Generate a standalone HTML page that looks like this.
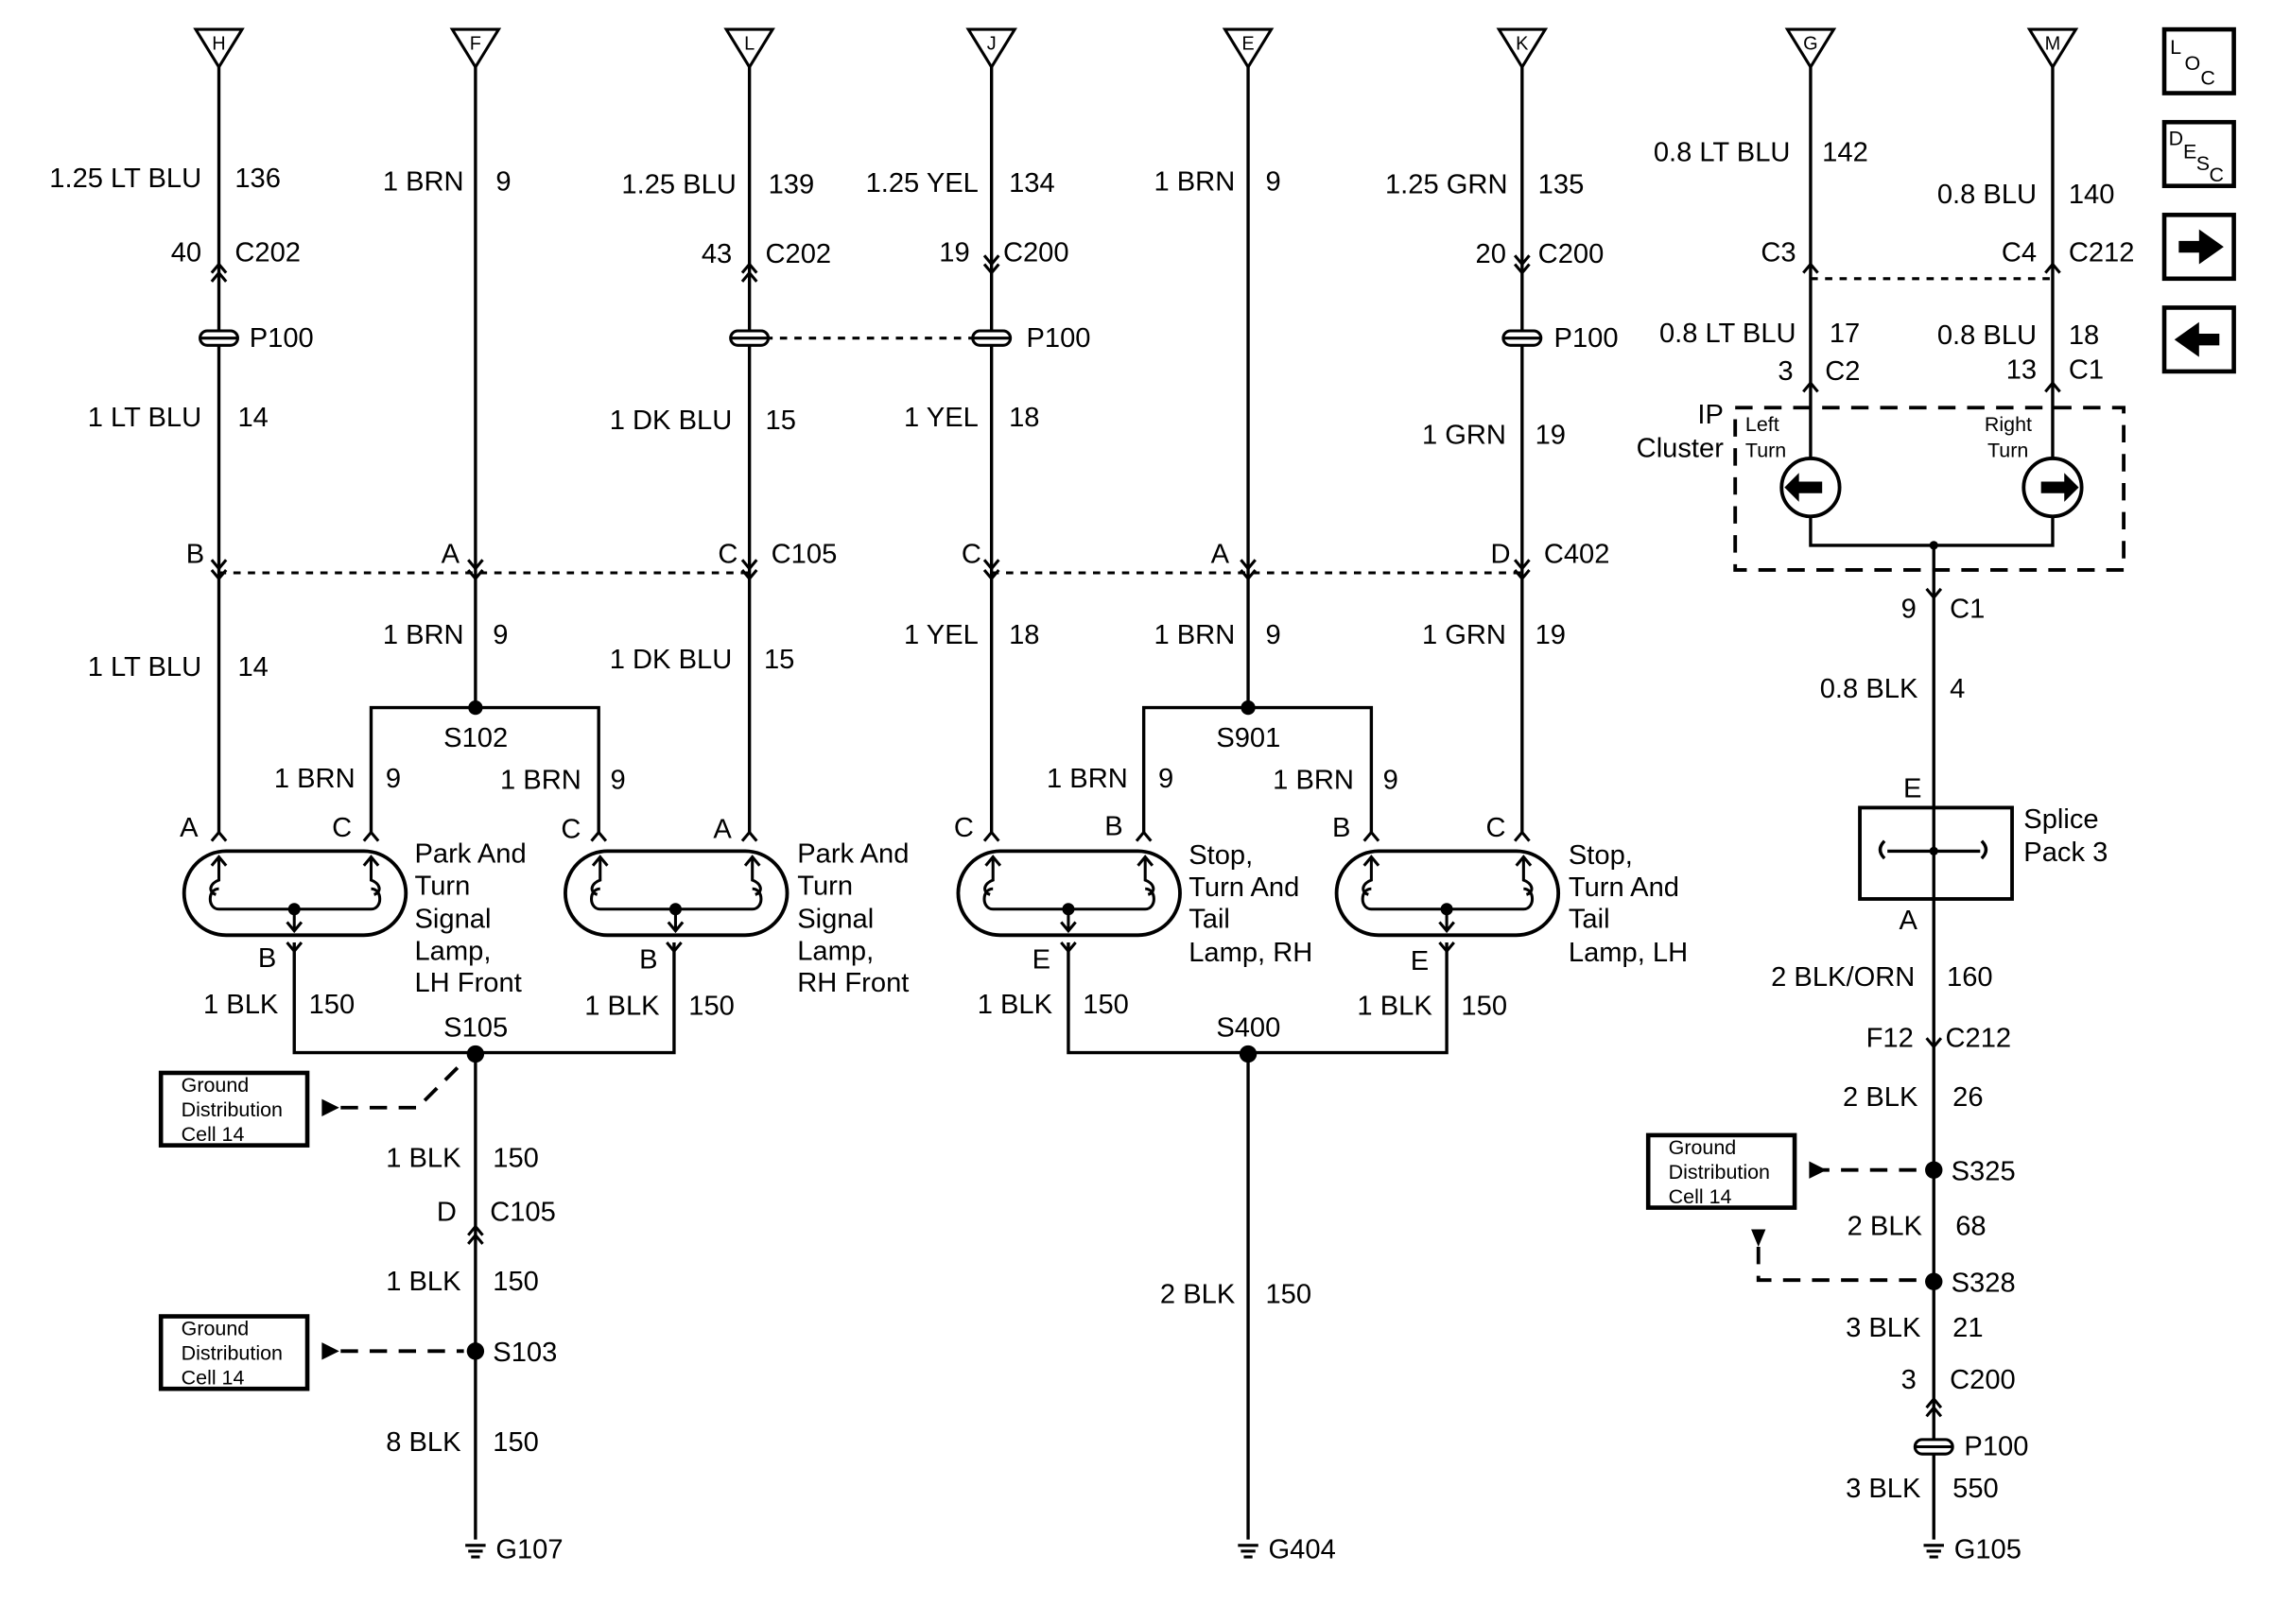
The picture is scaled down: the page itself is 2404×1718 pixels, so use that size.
<!DOCTYPE html>
<html><head><meta charset="utf-8"><style>
html,body{margin:0;padding:0;background:#fff}
svg{display:block}
text{font-family:"Liberation Sans",sans-serif;font-size:19px;fill:#000}
.e{text-anchor:end}
.s{font-size:14px}
.t{font-size:13px;text-anchor:middle}
</style></head><body>
<svg width="2404" height="1718" viewBox="0 0 1568 1120" xmlns="http://www.w3.org/2000/svg">
<defs>
<g id="lamp" fill="none" stroke="#000" stroke-width="2.5">
<rect x="0" y="0" width="153" height="58" rx="29"/>
<path d="M24 4 v16 c-6 2 -8 8 -2 10 M24 26 c-8 0 -8 14 0 14 H129 c8 0 8 -14 0 -14 M129 4 v16 c6 2 8 8 2 10" stroke-width="2"/>
<path d="M19 10 l5 -6 l5 6 M124 10 l5 -6 l5 6 M76 40 v15 M71 49 l5 6 l5 -6" stroke-width="2"/>
<circle cx="76" cy="40" r="3" fill="#000"/>
</g>
<g id="fc" fill="none" stroke="#000" stroke-width="2"><path d="M-5 6 L0 0 L5 6"/></g>
<g id="mc" fill="none" stroke="#000" stroke-width="2"><path d="M-5 -6 L0 0 L5 -6"/></g>
<g id="p100" stroke="#000" stroke-width="2" fill="#fff"><rect x="-13" y="-5" width="26" height="10" rx="5"/><line x1="-13" y1="0" x2="13" y2="0"/></g>
<g id="tri" fill="none" stroke="#000" stroke-width="2"><path d="M-16 20 H16 L0 46 Z"/></g>
<g id="gnd" stroke="#000" stroke-width="2"><line x1="-7" y1="0" x2="7" y2="0"/><line x1="-5" y1="4" x2="5" y2="4"/><line x1="-3" y1="8" x2="3" y2="8"/></g>
</defs>
<g stroke="#000" stroke-width="2.2" fill="none">
<!-- vertical wires -->
<path d="M151 46 V575 M328 46 V488 M517 46 V575 M684 46 V575 M861 46 V488 M1050 46 V575 M1249 46 V316 M1416 46 V316"/>
<path d="M256 575 V488 H413 V575 M789 575 V488 H946 V575"/>
<path d="M203 650 V726 H465 V650 M737 650 V726 H998 V650"/>
<path d="M328 726 V1062 M861 726 V1062 M1334 376 V1062"/>
<path d="M1249 356 V376 H1416 V356"/>
<rect x="1283" y="557" width="105" height="63" stroke-width="2.5"/>
<path d="M1300 580 c-4 4 -4 8 0 12 M1367 580 c4 4 4 8 0 12 M1302 587 H1366"/>
<circle cx="1249" cy="336" r="20" stroke-width="2.5"/>
<circle cx="1416" cy="336" r="20" stroke-width="2.5"/>
<!-- ground boxes -->
<rect x="111" y="740" width="101" height="50" stroke-width="3"/>
<rect x="111" y="908" width="101" height="50" stroke-width="3"/>
<rect x="1137" y="783" width="101" height="50" stroke-width="3"/>
</g>
<g stroke="#000" stroke-width="2" fill="none" stroke-dasharray="5 5">
<path d="M151 395 H517 M684 395 H1050 M528 233 H672 M1249 192 H1416"/>
</g>
<g stroke="#000" stroke-width="2.5" fill="none" stroke-dasharray="12 8">
<rect x="1197" y="281" width="268" height="112"/>
<path d="M235 764 H288 L320 732 M235 932 H320 M1250 807 H1325 M1213 860 V883 H1325"/>
</g>
<g fill="#000">
<path d="M222 758 l12 6 l-12 6 z M222 926 l12 6 l-12 6 z M1248 801 l12 6 l-12 6 z M1208 848 l5 12 l5 -12 z"/>
<path d="M1231 336 l10 -10 v6 h16 v8 h-16 v6 z M1434 336 l-10 -10 v6 h-16 v8 h16 v6 z"/>
<circle cx="328" cy="488" r="5"/><circle cx="861" cy="488" r="5"/>
<circle cx="328" cy="727" r="6"/><circle cx="861" cy="727" r="6"/>
<circle cx="328" cy="932" r="6"/><circle cx="1334" cy="807" r="6"/><circle cx="1334" cy="884" r="6"/>
<circle cx="1334" cy="587" r="3"/><circle cx="1334" cy="376" r="3"/>
</g>
<use href="#lamp" x="127" y="587"/><use href="#lamp" x="390" y="587"/>
<use href="#lamp" x="661" y="587"/><use href="#lamp" x="922" y="587"/>
<!-- triangles -->
<use href="#tri" x="151" y="0"/><use href="#tri" x="328" y="0"/><use href="#tri" x="517" y="0"/><use href="#tri" x="684" y="0"/>
<use href="#tri" x="861" y="0"/><use href="#tri" x="1050" y="0"/><use href="#tri" x="1249" y="0"/><use href="#tri" x="1416" y="0"/>
<text class="t" x="151" y="34">H</text><text class="t" x="328" y="34">F</text><text class="t" x="517" y="34">L</text><text class="t" x="684" y="34">J</text>
<text class="t" x="861" y="34">E</text><text class="t" x="1050" y="34">K</text><text class="t" x="1249" y="34">G</text><text class="t" x="1416" y="34">M</text>
<!-- connectors -->
<use href="#fc" x="151" y="182"/><use href="#fc" x="151" y="188"/>
<use href="#fc" x="517" y="182"/><use href="#fc" x="517" y="188"/>
<use href="#mc" x="684" y="182"/><use href="#mc" x="684" y="188"/>
<use href="#mc" x="1050" y="182"/><use href="#mc" x="1050" y="188"/>
<use href="#fc" x="1249" y="182"/><use href="#fc" x="1416" y="182"/>
<use href="#fc" x="1249" y="264"/><use href="#fc" x="1416" y="264"/>
<use href="#p100" x="151" y="233"/><use href="#p100" x="517" y="233"/><use href="#p100" x="684" y="233"/><use href="#p100" x="1050" y="233"/><use href="#p100" x="1334" y="998"/>
<use href="#mc" x="151" y="392"/><use href="#mc" x="151" y="399"/><use href="#mc" x="328" y="392"/><use href="#mc" x="328" y="399"/>
<use href="#mc" x="517" y="392"/><use href="#mc" x="517" y="399"/><use href="#mc" x="684" y="392"/><use href="#mc" x="684" y="399"/>
<use href="#mc" x="861" y="392"/><use href="#mc" x="861" y="399"/><use href="#mc" x="1050" y="392"/><use href="#mc" x="1050" y="399"/>
<use href="#fc" x="151" y="574"/><use href="#fc" x="256" y="574"/><use href="#fc" x="413" y="574"/><use href="#fc" x="517" y="574"/>
<use href="#fc" x="684" y="574"/><use href="#fc" x="789" y="574"/><use href="#fc" x="946" y="574"/><use href="#fc" x="1050" y="574"/>
<use href="#mc" x="203" y="656"/><use href="#mc" x="465" y="656"/><use href="#mc" x="737" y="656"/><use href="#mc" x="998" y="656"/>
<use href="#mc" x="1334" y="412"/><use href="#fc" x="328" y="846"/><use href="#fc" x="328" y="852"/>
<use href="#fc" x="1334" y="965"/><use href="#fc" x="1334" y="971"/><use href="#mc" x="1334" y="722"/>
<use href="#gnd" x="328" y="1066"/><use href="#gnd" x="861" y="1066"/><use href="#gnd" x="1334" y="1066"/>
<!-- labels column H -->
<text class="e" x="139" y="129">1.25 LT BLU</text><text x="162" y="129">136</text>
<text class="e" x="139" y="180">40</text><text x="162" y="180">C202</text><text x="172" y="239">P100</text>
<text class="e" x="139" y="294">1 LT BLU</text><text x="164" y="294">14</text>
<text class="e" x="141" y="388">B</text><text class="e" x="139" y="466">1 LT BLU</text><text x="164" y="466">14</text>
<!-- F -->
<text class="e" x="320" y="131">1 BRN</text><text x="342" y="131">9</text>
<text class="e" x="317" y="388">A</text><text class="e" x="320" y="444">1 BRN</text><text x="340" y="444">9</text>
<text x="306" y="515">S102</text>
<text class="e" x="245" y="543">1 BRN</text><text x="266" y="543">9</text>
<text class="e" x="401" y="544">1 BRN</text><text x="421" y="544">9</text>
<!-- L -->
<text class="e" x="508" y="133">1.25 BLU</text><text x="530" y="133">139</text>
<text class="e" x="505" y="181">43</text><text x="528" y="181">C202</text>
<text class="e" x="505" y="296">1 DK BLU</text><text x="528" y="296">15</text>
<text class="e" x="509" y="388">C</text><text x="532" y="388">C105</text>
<text class="e" x="505" y="461">1 DK BLU</text><text x="527" y="461">15</text>
<!-- J -->
<text class="e" x="675" y="132">1.25 YEL</text><text x="696" y="132">134</text>
<text class="e" x="669" y="180">19</text><text x="692" y="180">C200</text><text x="708" y="239">P100</text>
<text class="e" x="675" y="294">1 YEL</text><text x="696" y="294">18</text>
<text class="e" x="677" y="388">C</text><text class="e" x="675" y="444">1 YEL</text><text x="696" y="444">18</text>
<!-- E -->
<text class="e" x="852" y="131">1 BRN</text><text x="873" y="131">9</text>
<text class="e" x="848" y="388">A</text><text class="e" x="852" y="444">1 BRN</text><text x="873" y="444">9</text>
<text x="839" y="515">S901</text>
<text class="e" x="778" y="543">1 BRN</text><text x="799" y="543">9</text>
<text class="e" x="934" y="544">1 BRN</text><text x="954" y="544">9</text>
<!-- K -->
<text class="e" x="1040" y="133">1.25 GRN</text><text x="1061" y="133">135</text>
<text class="e" x="1039" y="181">20</text><text x="1061" y="181">C200</text><text x="1072" y="239">P100</text>
<text class="e" x="1039" y="306">1 GRN</text><text x="1059" y="306">19</text>
<text class="e" x="1042" y="388">D</text><text x="1065" y="388">C402</text>
<text class="e" x="1039" y="444">1 GRN</text><text x="1059" y="444">19</text>
<!-- lamp letters -->
<text x="124" y="577">A</text><text x="229" y="577">C</text><text x="387" y="578">C</text><text x="492" y="578">A</text>
<text x="658" y="577">C</text><text x="762" y="576">B</text><text x="919" y="577">B</text><text x="1025" y="577">C</text>
<text x="178" y="667">B</text><text x="441" y="668">B</text><text x="712" y="668">E</text><text x="973" y="669">E</text>
<text x="286" y="595">Park And</text><text x="286" y="617">Turn</text><text x="286" y="640">Signal</text><text x="286" y="662">Lamp,</text><text x="286" y="684">LH Front</text>
<text x="550" y="595">Park And</text><text x="550" y="617">Turn</text><text x="550" y="640">Signal</text><text x="550" y="662">Lamp,</text><text x="550" y="684">RH Front</text>
<text x="820" y="596">Stop,</text><text x="820" y="618">Turn And</text><text x="820" y="640">Tail</text><text x="820" y="663">Lamp, RH</text>
<text x="1082" y="596">Stop,</text><text x="1082" y="618">Turn And</text><text x="1082" y="640">Tail</text><text x="1082" y="663">Lamp, LH</text>
<text class="e" x="192" y="699">1 BLK</text><text x="213" y="699">150</text>
<text class="e" x="455" y="700">1 BLK</text><text x="475" y="700">150</text>
<text class="e" x="726" y="699">1 BLK</text><text x="747" y="699">150</text>
<text class="e" x="988" y="700">1 BLK</text><text x="1008" y="700">150</text>
<text x="306" y="715">S105</text><text x="839" y="715">S400</text>
<text class="s" x="125" y="753">Ground</text><text class="s" x="125" y="770">Distribution</text><text class="s" x="125" y="787">Cell 14</text>
<text class="s" x="125" y="921">Ground</text><text class="s" x="125" y="938">Distribution</text><text class="s" x="125" y="955">Cell 14</text>
<text class="s" x="1151" y="796">Ground</text><text class="s" x="1151" y="813">Distribution</text><text class="s" x="1151" y="830">Cell 14</text>
<text class="e" x="318" y="805">1 BLK</text><text x="340" y="805">150</text>
<text class="e" x="315" y="842">D</text><text x="338" y="842">C105</text>
<text class="e" x="318" y="890">1 BLK</text><text x="340" y="890">150</text>
<text x="340" y="939">S103</text>
<text class="e" x="318" y="1001">8 BLK</text><text x="340" y="1001">150</text>
<text x="342" y="1075">G107</text>
<text class="e" x="852" y="899">2 BLK</text><text x="873" y="899">150</text>
<text x="875" y="1075">G404</text>
<!-- right -->
<text class="e" x="1235" y="111">0.8 LT BLU</text><text x="1257" y="111">142</text>
<text class="e" x="1405" y="140">0.8 BLU</text><text x="1427" y="140">140</text>
<text class="e" x="1239" y="180">C3</text><text class="e" x="1405" y="180">C4</text><text x="1427" y="180">C212</text>
<text class="e" x="1239" y="236">0.8 LT BLU</text><text x="1262" y="236">17</text>
<text class="e" x="1405" y="237">0.8 BLU</text><text x="1427" y="237">18</text>
<text class="e" x="1237" y="262">3</text><text x="1259" y="262">C2</text>
<text class="e" x="1405" y="261">13</text><text x="1427" y="261">C1</text>
<text class="e" x="1189" y="292">IP</text><text class="e" x="1189" y="315">Cluster</text>
<text class="s" x="1204" y="297">Left</text><text class="s" x="1204" y="315">Turn</text>
<text class="s" x="1369" y="297">Right</text><text class="s" x="1371" y="315">Turn</text>
<text class="e" x="1322" y="426">9</text><text x="1345" y="426">C1</text>
<text class="e" x="1323" y="481">0.8 BLK</text><text x="1345" y="481">4</text>
<text x="1313" y="550">E</text><text x="1396" y="571">Splice</text><text x="1396" y="594">Pack 3</text>
<text x="1310" y="641">A</text>
<text class="e" x="1321" y="680">2 BLK/ORN</text><text x="1343" y="680">160</text>
<text class="e" x="1320" y="722">F12</text><text x="1342" y="722">C212</text>
<text class="e" x="1323" y="763">2 BLK</text><text x="1347" y="763">26</text>
<text x="1346" y="814">S325</text>
<text class="e" x="1326" y="852">2 BLK</text><text x="1349" y="852">68</text>
<text x="1346" y="891">S328</text>
<text class="e" x="1325" y="922">3 BLK</text><text x="1347" y="922">21</text>
<text class="e" x="1322" y="958">3</text><text x="1345" y="958">C200</text>
<text x="1355" y="1004">P100</text>
<text class="e" x="1325" y="1033">3 BLK</text><text x="1347" y="1033">550</text>
<text x="1348" y="1075">G105</text>
<!-- side icons -->
<g fill="none" stroke="#000" stroke-width="3">
<rect x="1493" y="20" width="48" height="44"/><rect x="1493" y="84" width="48" height="44"/>
<rect x="1493" y="148" width="48" height="44"/><rect x="1493" y="212" width="48" height="44"/>
</g>
<text class="s" x="1497" y="37">L</text><text class="s" x="1507" y="48">O</text><text class="s" x="1518" y="58">C</text>
<text class="s" x="1496" y="100">D</text><text class="s" x="1506" y="109">E</text><text class="s" x="1515" y="117">S</text><text class="s" x="1524" y="125">C</text>
<path d="M1503 166 h14 v-8 l17 12 l-17 12 v-8 h-14 z M1531 230 h-14 v-8 l-17 12 l17 12 v-8 h14 z" fill="#000"/>
</svg>
</body></html>
